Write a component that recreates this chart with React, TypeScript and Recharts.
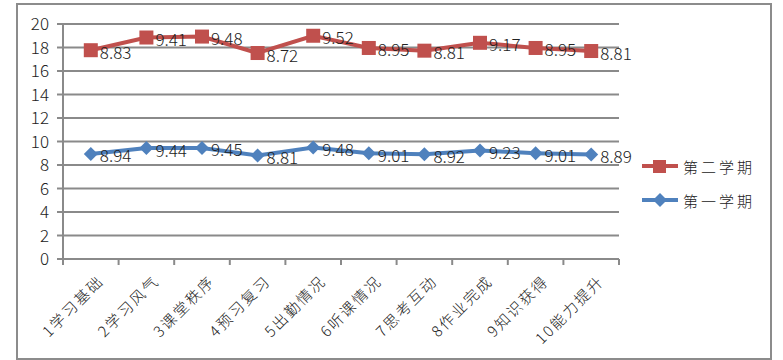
import { ComposedChart, Area, XAxis, YAxis, CartesianGrid, LabelList } from "recharts"

const categories = [
  "1学习基础",
  "2学习风气",
  "3课堂秩序",
  "4预习复习",
  "5出勤情况",
  "6听课情况",
  "7思考互动",
  "8作业完成",
  "9知识获得",
  "10能力提升",
]
const term1 = [8.94, 9.44, 9.45, 8.81, 9.48, 9.01, 8.92, 9.23, 9.01, 8.89]
const term2 = [8.83, 9.41, 9.48, 8.72, 9.52, 8.95, 8.81, 9.17, 8.95, 8.81]
const yTicks = [0, 2, 4, 6, 8, 10, 12, 14, 16, 18, 20]

const RED = "#C0504D"
const BLUE = "#4F81BD"
const GRID = "#8a8a8a"
const FONT = "'Noto Sans CJK SC', 'Noto Sans', sans-serif"

const data = categories.map((name, i) => ({ name, term1: term1[i], term2: term2[i] }))

// plot is 556px wide, 10 categories
const HALF = 556 / 20

function CategoryTick(props: any) {
  const { x, y, payload, index } = props
  return (
    <g>
      <line x1={x - HALF} y1={y} x2={x - HALF} y2={y + 6} stroke={GRID} strokeWidth={2} />
      {index === categories.length - 1 && (
        <line x1={x + HALF} y1={y} x2={x + HALF} y2={y + 6} stroke={GRID} strokeWidth={2} />
      )}
      <text
        transform={`translate(${x + 14},${y + 23}) rotate(-45)`}
        textAnchor="end"
        fontSize={15}
        letterSpacing={2.2}
        fill="#222"
        fontFamily={FONT}
        fontWeight={300}
      >
        {payload.value}
      </text>
    </g>
  )
}

function SquareDot(props: any) {
  const { cx, cy } = props
  if (cx == null || cy == null) return null
  return <rect x={cx - 7} y={cy - 7} width={14} height={14} fill={RED} />
}

function DiamondDot(props: any) {
  const { cx, cy } = props
  if (cx == null || cy == null) return null
  return <path d={`M${cx},${cy - 7}L${cx + 7},${cy}L${cx},${cy + 7}L${cx - 7},${cy}Z`} fill={BLUE} />
}

function ValueLabel(props: any) {
  const { x, y, value } = props
  return (
    <text x={x + 9} y={y + 1} dominantBaseline="central" fontSize={17} fill="#222" fontFamily={FONT} fontWeight={300}>
      {Number(value).toFixed(2)}
    </text>
  )
}

function LegendBox() {
  const items = [
    { name: "第二学期", color: RED, marker: "square" },
    { name: "第一学期", color: BLUE, marker: "diamond" },
  ]
  return (
    <div style={{ position: "absolute", left: 641, top: 149, fontFamily: FONT }}>
      {items.map((it) => (
        <div key={it.name} style={{ display: "flex", alignItems: "center", height: 34 }}>
          <svg width={38} height={16}>
            <line x1={1} y1={8} x2={37} y2={8} stroke={it.color} strokeWidth={4} />
            {it.marker === "square" ? (
              <rect x={12} y={2} width={13} height={13} fill={it.color} />
            ) : (
              <path d="M19,1L26,8L19,15L12,8Z" fill={it.color} />
            )}
          </svg>
          <span style={{ fontSize: 15, letterSpacing: 3, marginLeft: 4, color: "#222", fontWeight: 300 }}>
            {it.name}
          </span>
        </div>
      ))}
    </div>
  )
}

export default function App() {
  return (
    <div style={{ position: "absolute", left: 0, top: 0, width: 783, height: 360, background: "#fff" }}>
      <div
        style={{
          position: "absolute",
          left: 16,
          top: 3,
          width: 752,
          height: 353,
          border: "2px solid #8c8c8c",
        }}
      />
      <ComposedChart
        width={783}
        height={360}
        data={data}
        margin={{ top: 24, right: 164, left: 0, bottom: 0 }}
        style={{ position: "absolute", left: 0, top: 0 }}
      >
        <CartesianGrid vertical={false} stroke={GRID} strokeWidth={2} />
        <XAxis
          dataKey="name"
          height={101}
          padding={{ left: HALF, right: HALF }}
          tickLine={false}
          tickSize={0}
          tickMargin={0}
          axisLine={{ stroke: GRID, strokeWidth: 2 }}
          tick={<CategoryTick />}
          interval={0}
        />
        <YAxis
          width={63}
          domain={[0, 20]}
          ticks={yTicks}
          interval={0}
          tickSize={6}
          tickMargin={8}
          tickLine={{ stroke: GRID, strokeWidth: 2 }}
          axisLine={{ stroke: GRID, strokeWidth: 2 }}
          tick={{ fontSize: 17, fill: "#222", fontFamily: FONT, fontWeight: 300 }}
        />
        <Area
          type="linear"
          dataKey="term1"
          stackId="s"
          stroke={BLUE}
          strokeWidth={4}
          fill="none"
          dot={<DiamondDot />}
          activeDot={false}
          isAnimationActive={false}
        >
          <LabelList dataKey="term1" content={<ValueLabel />} />
        </Area>
        <Area
          type="linear"
          dataKey="term2"
          stackId="s"
          stroke={RED}
          strokeWidth={4}
          fill="none"
          dot={<SquareDot />}
          activeDot={false}
          isAnimationActive={false}
        >
          <LabelList dataKey="term2" content={<ValueLabel />} />
        </Area>
      </ComposedChart>
      <LegendBox />
    </div>
  )
}
